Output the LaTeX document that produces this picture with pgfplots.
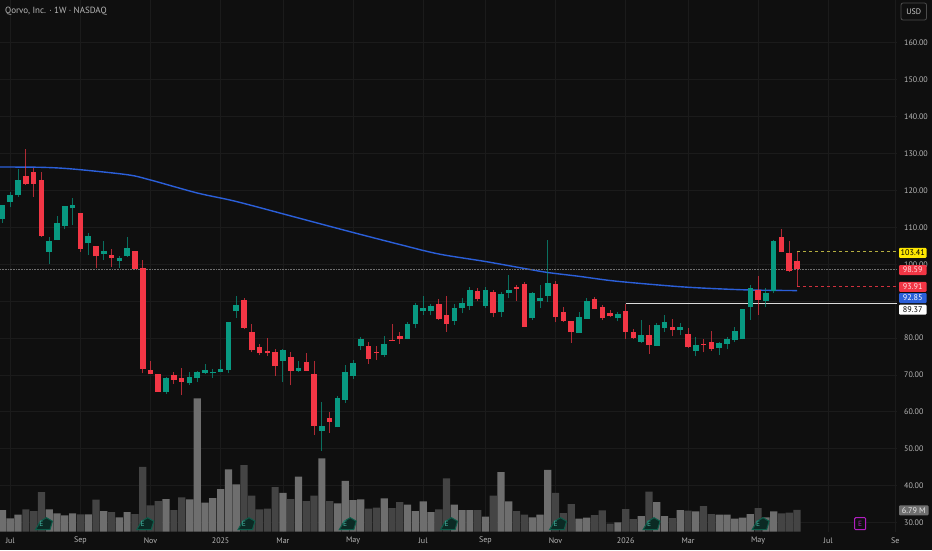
\documentclass[border=0pt]{standalone}
\usepackage{pgfplots}
\usepackage{pgfplotstable}
\usepackage{fontspec}
\setmainfont{PT Sans}
\pgfplotsset{compat=1.18}
\definecolor{bg}{HTML}{0F0F0F}
\definecolor{gridc}{HTML}{1B1B1B}
\definecolor{upc}{HTML}{089981}
\definecolor{dnc}{HTML}{F23645}
\definecolor{maC}{HTML}{2B5FD9}
\definecolor{txt}{HTML}{B8B8B8}
\definecolor{volU}{HTML}{6E6E6E}
\definecolor{volD}{HTML}{444444}
\definecolor{earn}{HTML}{0E5C4A}
\definecolor{earnf}{HTML}{0B2A24}
\definecolor{purp}{HTML}{B01FC0}
\pgfplotstableread{
i o h l c v
0 112.17 116.04 111.17 115.96 6.77
1 116.86 119.57 115.42 118.84 4.17
2 118.67 125.72 118.29 122.82 5.31
6 103.39 107.45 100.06 106.21 6.98
7 106.48 113.06 106.48 111.17 5.73
8 110.44 115.77 109.46 115.69 5.10
9 115.15 117.86 110.62 115.96 5.73
11 105.67 108.54 102.49 107.64 5.42
13 102.68 106.37 101.14 103.58 6.46
15 100.87 102.22 99.05 101.76 4.48
16 102.22 107.29 102.03 104.39 6.15
21 65.45 69.51 64.83 69.16 10.2
24 67.73 70.71 67.26 69.35 10.1
25 69.24 71.14 68.16 70.79 41.7
26 70.52 72.87 70.33 71.33 9.06
27 70.44 71.52 69.16 70.71 10.5
28 70.87 74.04 70.71 71.60 13.3
29 71.41 84.26 70.44 84.26 19.5
30 87.24 91.25 85.50 89.03 14.8
36 73.77 76.94 68.00 76.75 12.1
38 71.14 73.77 70.71 71.79 17.2
41 54.88 62.58 49.38 56.15 22.9
43 55.80 64.20 55.80 63.74 8.85
44 63.20 72.60 62.47 70.79 15.9
45 69.70 74.04 68.97 73.23 9.90
46 77.92 80.19 76.75 79.65 10.1
49 75.31 80.54 74.77 78.46 10.4
52 79.73 84.42 79.65 83.80 8.44
53 83.71 89.41 82.79 88.86 6.46
54 87.24 91.38 86.23 88.21 9.48
55 87.32 89.22 86.15 88.67 6.15
58 84.69 89.22 83.61 88.13 8.44
59 88.13 90.76 86.70 89.41 6.77
60 88.76 93.90 87.59 93.01 6.77
62 88.67 93.90 88.13 93.01 4.69
64 86.97 92.47 85.69 91.93 18.6
65 92.28 97.07 90.76 93.09 9.48
68 85.34 92.39 84.88 92.20 4.48
69 89.95 94.36 88.13 90.84 5.31
70 91.38 106.56 89.84 94.91 19.3
74 81.36 86.97 81.36 85.77 4.06
75 85.23 90.76 85.23 89.95 4.38
79 85.34 86.97 84.53 86.42 2.92
82 78.92 84.88 78.73 80.81 4.90
84 77.83 83.99 77.83 83.61 9.27
85 82.71 86.23 81.63 84.34 4.90
87 82.09 84.15 80.81 82.98 6.77
89 76.40 80.19 75.04 78.02 6.35
92 77.29 79.00 75.39 78.73 5.31
93 78.38 80.35 76.94 79.73 5.31
94 79.38 83.06 78.84 81.90 4.06
95 79.65 87.94 79.65 87.78 4.38
96 88.32 94.36 84.96 93.47 5.52
98 89.95 93.47 88.32 92.12 4.48
99 92.82 106.56 92.12 106.37 6.35
}\upT
\pgfplotstableread{
i o h l c v
3 123.90 131.14 121.46 121.74 6.98
4 124.91 125.99 118.29 121.82 6.46
5 122.74 124.91 107.45 107.64 12.4
10 113.80 113.80 103.39 104.20 5.42
12 104.85 104.85 98.89 102.14 10.0
14 102.49 104.04 99.32 101.68 6.15
17 103.58 103.58 98.70 98.78 5.52
18 99.05 101.14 70.44 71.52 20.3
19 71.41 73.85 70.16 70.16 8.23
20 70.16 70.16 65.45 65.45 9.58
22 69.89 70.71 67.54 68.70 6.77
23 69.24 71.87 64.55 68.08 10.7
31 90.22 90.76 82.36 82.71 20.8
32 81.71 83.71 76.29 76.75 11.3
33 77.64 78.29 75.31 76.02 6.98
34 76.56 80.00 75.21 75.86 7.19
35 76.21 76.94 69.70 72.41 13.9
37 74.93 76.21 67.18 71.14 10.2
39 73.58 76.02 71.06 71.14 9.58
40 70.25 73.77 53.80 56.15 11.3
42 58.32 59.95 54.34 57.24 9.58
47 77.83 78.92 72.96 74.39 7.19
48 76.29 77.92 74.04 75.94 7.50
50 79.54 83.80 79.19 79.19 7.40
51 80.46 81.63 78.38 79.73 9.27
56 89.22 90.57 84.88 85.07 6.98
57 86.15 91.38 81.71 83.88 16.7
61 92.66 93.47 89.95 90.49 6.77
63 92.47 93.01 85.61 86.70 11.3
66 93.82 94.36 90.03 93.28 6.46
67 94.72 95.26 82.98 82.98 5.31
71 94.55 95.53 84.26 85.61 12.1
72 87.05 88.48 84.34 84.61 5.83
73 84.53 84.53 78.73 81.55 8.65
76 90.49 91.03 87.78 87.86 5.21
77 88.48 89.03 84.88 85.34 6.67
78 86.78 87.59 85.61 85.88 2.50
80 87.40 89.22 79.73 81.63 7.08
81 81.63 82.36 79.65 79.92 3.96
83 80.81 83.44 75.67 78.02 12.5
86 82.98 85.07 80.54 82.09 4.27
88 81.17 82.63 77.37 77.48 6.56
90 78.38 79.65 76.13 78.10 8.02
91 79.00 81.90 76.56 77.02 5.52
97 93.01 96.80 86.32 90.38 7.40
100 107.29 109.62 103.23 103.31 5.73
101 102.96 106.21 97.97 98.08 5.94
102 100.79 103.41 93.91 98.59 6.79
}\dnT
\pgfplotstableread{
i ma
-0.32 126.34
5 126.26
9 125.80
16 124.26
19 122.82
25 119.30
30 117.00
38 112.52
45 108.60
51 105.34
56 102.77
62 100.73
67 98.84
70 97.75
74 96.72
78 95.58
82 94.77
87 93.90
91 93.42
96 93.01
102 92.85
}\maT
\newcommand{\candles}[3]{%
  \addplot[draw=none,forget plot,error bars/.cd,y dir=plus,y explicit,error mark=none,
    error bar style={line width=0.9pt,color=#2,opacity=0.7}]
    table[x=i,y=l,y error plus expr=\thisrow{h}-\thisrow{l}]{#1};
  \addplot[draw=none,forget plot,error bars/.cd,y dir=plus,y explicit,error mark=none,
    error bar style={line width=5.6pt,color=#2}]
    table[x=i,y=#3,y error plus expr=abs(\thisrow{c}-\thisrow{o})]{#1};
}
\newcommand{\earnmark}[1]{%
  \filldraw[fill=earnf,draw=earn,line width=1pt]
    (axis cs:#1,0) ++(-6pt,2pt) -- ++(12pt,0) -- ++(0,8.5pt) -- ++(-6pt,3.5pt) -- ++(-6pt,-3.5pt) -- cycle;
  \node[text=upc!75!white,font=\fontsize{7.5}{8}\selectfont,inner sep=0pt] at (axis cs:#1,2.5) {E};
}
\newcommand{\pricetag}[5][926.5]{%
  \fill[#3,rounded corners=1pt] (899pt,{550pt-#2pt-5pt}) rectangle (#1pt,{550pt-#2pt+5pt});
  \node[text=#4,font=\fontsize{8.2}{9}\selectfont,inner sep=0pt] at ({(899pt+#1pt)/2},{550pt-#2pt}) {#5};
}
\begin{document}
\begin{tikzpicture}[x=1pt,y=1pt]
\path[use as bounding box] (0,0) rectangle (932,550);
\fill[bg] (0,0) rectangle (932,550);
\begin{axis}[
  at={(0pt,18.3pt)},anchor=south west,scale only axis,width=897pt,height=531.7pt,
  xmin=-0.321,xmax=114.83,ymin=27.51,ymax=171.6,
  axis line style={draw=none},tick style={draw=none},
  grid=major,major grid style={gridc,line width=0.7pt},
  ytick={30,40,...,160},
  yticklabels={30.00,40.00,50.00,60.00,70.00,80.00,,100.00,110.00,120.00,130.00,140.00,150.00,160.00},
  yticklabel pos=right,
  xtick={1,10,19,28,36,45,54,62,71,80,88,97,106,114.6},
  xticklabels={Jul,Sep,Nov,2025,Mar,May,Jul,Sep,Nov,2026,Mar,May,Jul,Se},
  yticklabel style={text=txt,font=\fontsize{8}{9}\selectfont,anchor=west,inner sep=0pt,xshift=7pt},
  xticklabel style={text=txt,font=\fontsize{8}{9}\selectfont,inner sep=0pt,anchor=center,yshift=-9pt},
]
\addplot[color=maC,line width=1.4pt,smooth,forget plot] table[x=i,y=ma]{\maT};
\addplot[forget plot,color=white!40!bg,line width=0.6pt,densely dotted] coordinates {(-0.321,98.59)(114.83,98.59)};
\addplot[forget plot,color=white!85!bg,line width=1.1pt] coordinates {(80,89.37)(114.83,89.37)};
\addplot[forget plot,color=yellow!65!bg,line width=0.8pt,dash pattern=on 3pt off 3pt] coordinates {(102,103.41)(114.83,103.41)};
\addplot[forget plot,color=dnc!85!bg,line width=0.8pt,dash pattern=on 3pt off 3pt] coordinates {(102,93.91)(114.83,93.91)};
\candles{\upT}{upc}{o}
\candles{\dnT}{dnc}{c}
\end{axis}
\begin{axis}[
  at={(0pt,18.3pt)},anchor=south west,scale only axis,width=897pt,height=531.7pt,
  xmin=-0.321,xmax=114.83,ymin=0,ymax=166.2,
  axis line style={draw=none},tick style={draw=none},ticks=none,clip=false,
]
\addplot[ybar,bar width=7.2pt,bar shift=0pt,fill=volU,draw=none,forget plot] table[x=i,y=v]{\upT};
\addplot[ybar,bar width=7.2pt,bar shift=0pt,fill=volD,draw=none,forget plot] table[x=i,y=v]{\dnT};
\earnmark{5}
\earnmark{18}
\earnmark{31}
\earnmark{44}
\earnmark{57}
\earnmark{71}
\earnmark{83}
\earnmark{97}
\filldraw[fill=bg,draw=purp,line width=1pt,rounded corners=1pt] (axis cs:110.1,0) ++(-5.5pt,2pt) rectangle ++(11pt,12pt);
\node[text=purp,font=\fontsize{7.5}{8}\selectfont,inner sep=0pt] at (axis cs:110.1,2.5) {E};
\end{axis}
\node[anchor=west,text=txt,font=\fontsize{9}{10}\selectfont,inner sep=0pt] at (5,539) {Qorvo, Inc. · 1W · NASDAQ};
\draw[draw=white!25!bg,rounded corners=2pt,line width=0.8pt] (901,530) rectangle (926.5,547);
\node[text=white!80!bg,font=\fontsize{8}{9}\selectfont,inner sep=0pt] at (913.7,538.5) {USD};
\pricetag{252.8}{yellow!90!orange}{black}{103.41}
\pricetag{270}{dnc}{white!85!dnc}{98.59}
\pricetag{286.8}{dnc}{white!85!dnc}{93.91}
\pricetag{298}{maC}{white}{92.85}
\pricetag{309.7}{white}{black}{89.37}
\pricetag[928.5]{510.3}{white!40!bg}{white!90!bg}{6.79 M}
\end{tikzpicture}
\end{document}
